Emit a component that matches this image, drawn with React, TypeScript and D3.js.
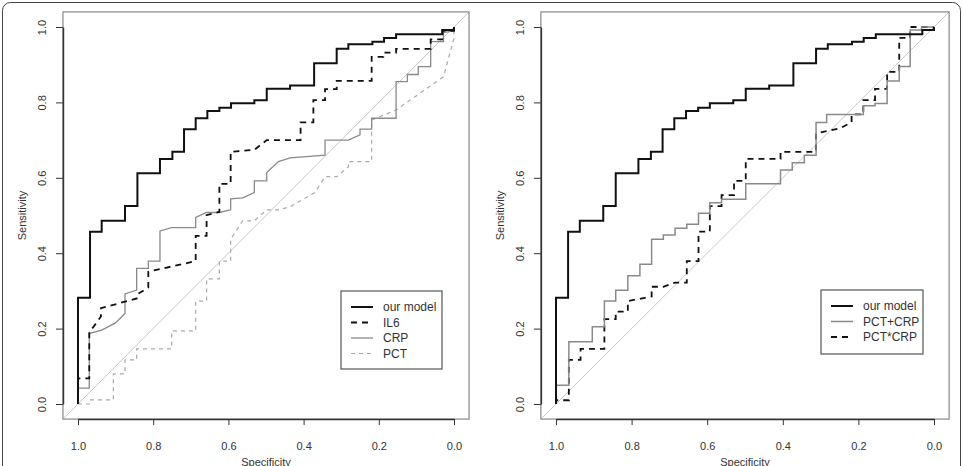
import { useEffect, useRef } from 'react';
import * as d3 from 'd3';

type Pt = [number, number]; // [specificity, sensitivity]

const specTicks = [1, 0.8, 0.6, 0.4, 0.2, 0];
const sensTicks = [0, 0.2, 0.4, 0.6, 0.8, 1];

const ourModel: Pt[] = [
    [1, 0], [1, 0.282], [0.968, 0.282], [0.968, 0.457], [0.937, 0.457], [0.937, 0.486],
    [0.875, 0.486], [0.875, 0.525], [0.842, 0.525], [0.842, 0.612], [0.782, 0.612], [0.782, 0.65],
    [0.749, 0.65], [0.749, 0.669], [0.718, 0.669], [0.718, 0.729], [0.687, 0.729], [0.687, 0.758],
    [0.656, 0.758], [0.656, 0.777], [0.624, 0.777], [0.624, 0.786], [0.593, 0.786], [0.593, 0.798],
    [0.531, 0.798], [0.531, 0.806], [0.498, 0.806], [0.498, 0.836], [0.436, 0.836], [0.436, 0.845],
    [0.372, 0.845], [0.372, 0.904], [0.312, 0.904], [0.312, 0.942], [0.281, 0.942], [0.281, 0.954],
    [0.217, 0.954], [0.217, 0.961], [0.186, 0.961], [0.186, 0.971], [0.154, 0.971], [0.154, 0.981],
    [0.031, 0.981], [0.031, 0.992], [0, 0.992], [0, 1]
];

const il6: Pt[] = [
    [1, 0], [1, 0.068], [0.97, 0.068], [0.97, 0.192], [0.96, 0.203], [0.939, 0.232], [0.939, 0.254],
    [0.844, 0.28], [0.844, 0.29], [0.813, 0.309], [0.813, 0.351], [0.687, 0.379], [0.687, 0.446],
    [0.658, 0.446], [0.658, 0.501], [0.624, 0.51], [0.624, 0.584], [0.594, 0.584], [0.594, 0.669],
    [0.531, 0.674], [0.498, 0.7], [0.408, 0.7], [0.408, 0.747], [0.374, 0.747], [0.374, 0.806],
    [0.343, 0.806], [0.343, 0.835], [0.312, 0.835], [0.312, 0.857], [0.219, 0.857], [0.219, 0.921],
    [0.188, 0.921], [0.188, 0.932], [0.154, 0.932], [0.154, 0.942], [0.062, 0.942], [0.062, 0.967],
    [0.031, 0.967], [0.031, 0.99], [0, 0.99], [0, 1]
];

const crp: Pt[] = [
    [1, 0], [1, 0.042], [0.97, 0.042], [0.97, 0.187], [0.937, 0.196], [0.9, 0.215], [0.875, 0.24],
    [0.875, 0.292], [0.844, 0.302], [0.844, 0.36], [0.813, 0.36], [0.813, 0.379], [0.782, 0.379],
    [0.782, 0.459], [0.751, 0.468], [0.687, 0.468], [0.687, 0.495], [0.658, 0.508], [0.624, 0.508],
    [0.594, 0.515], [0.594, 0.544], [0.562, 0.547], [0.531, 0.561], [0.531, 0.592], [0.498, 0.592],
    [0.498, 0.614], [0.467, 0.643], [0.436, 0.653], [0.343, 0.66], [0.343, 0.7], [0.281, 0.7],
    [0.25, 0.714], [0.25, 0.729], [0.219, 0.729], [0.219, 0.758], [0.154, 0.758], [0.154, 0.855],
    [0.124, 0.855], [0.124, 0.874], [0.095, 0.874], [0.095, 0.895], [0.062, 0.895], [0.062, 0.961],
    [0.028, 0.961], [0.028, 0.985], [0, 0.99], [0, 1]
];

const pct: Pt[] = [
    [1, 0], [0.97, 0], [0.97, 0.011], [0.906, 0.011], [0.906, 0.08], [0.875, 0.08], [0.875, 0.117],
    [0.844, 0.117], [0.844, 0.146], [0.751, 0.146], [0.751, 0.194], [0.687, 0.194], [0.687, 0.273],
    [0.658, 0.273], [0.658, 0.332], [0.624, 0.332], [0.624, 0.379], [0.594, 0.379], [0.594, 0.437],
    [0.562, 0.486], [0.531, 0.486], [0.498, 0.515], [0.467, 0.515], [0.436, 0.523], [0.37, 0.561],
    [0.343, 0.603], [0.312, 0.603], [0.281, 0.629], [0.281, 0.643], [0.219, 0.643], [0.219, 0.753],
    [0.154, 0.78], [0.028, 0.868], [0, 0.97], [0, 1]
];

const pctPlusCrp: Pt[] = [
    [1, 0], [1, 0.05], [0.966, 0.05], [0.966, 0.165], [0.904, 0.165], [0.904, 0.205], [0.872, 0.205],
    [0.872, 0.273], [0.842, 0.273], [0.842, 0.302], [0.81, 0.302], [0.81, 0.34], [0.778, 0.34],
    [0.778, 0.371], [0.747, 0.371], [0.747, 0.437], [0.716, 0.437], [0.716, 0.448], [0.685, 0.448],
    [0.685, 0.466], [0.654, 0.466], [0.654, 0.477], [0.623, 0.477], [0.623, 0.506], [0.593, 0.506],
    [0.593, 0.534], [0.562, 0.534], [0.562, 0.543], [0.498, 0.543], [0.498, 0.584], [0.406, 0.584],
    [0.406, 0.621], [0.375, 0.621], [0.375, 0.64], [0.343, 0.64], [0.343, 0.66], [0.312, 0.66],
    [0.312, 0.747], [0.284, 0.747], [0.284, 0.768], [0.187, 0.768], [0.187, 0.791], [0.156, 0.791],
    [0.156, 0.797], [0.124, 0.797], [0.124, 0.857], [0.092, 0.857], [0.092, 0.895], [0.063, 0.895],
    [0.063, 0.992], [0.033, 0.992], [0.033, 1], [0, 1]
];

const pctTimesCrp: Pt[] = [
    [1, 0], [1, 0.01], [0.966, 0.01], [0.966, 0.117], [0.935, 0.117], [0.935, 0.146], [0.872, 0.146],
    [0.872, 0.225], [0.842, 0.225], [0.842, 0.245], [0.81, 0.245], [0.81, 0.273], [0.747, 0.285],
    [0.747, 0.311], [0.716, 0.311], [0.685, 0.322], [0.654, 0.322], [0.654, 0.379], [0.623, 0.379],
    [0.623, 0.457], [0.593, 0.457], [0.593, 0.525], [0.562, 0.525], [0.562, 0.554], [0.529, 0.554],
    [0.529, 0.592], [0.498, 0.592], [0.498, 0.65], [0.406, 0.65], [0.406, 0.669], [0.312, 0.669],
    [0.312, 0.718], [0.249, 0.731], [0.218, 0.747], [0.218, 0.768], [0.187, 0.768], [0.187, 0.806],
    [0.156, 0.806], [0.156, 0.836], [0.124, 0.836], [0.124, 0.881], [0.092, 0.881], [0.092, 0.971],
    [0.063, 0.971], [0.063, 1], [0, 1]
];

interface LineStyle { stroke: string; width: number; dash: string | null }

const styles: Record<string, LineStyle> = {
    'our model': { stroke: '#111', width: 2, dash: null },
    IL6: { stroke: '#111', width: 1.8, dash: '6,5' },
    CRP: { stroke: '#8a8a8a', width: 1.3, dash: null },
    PCT: { stroke: '#aaa', width: 1.2, dash: '4,4' },
    'PCT+CRP': { stroke: '#8a8a8a', width: 1.5, dash: null },
    'PCT*CRP': { stroke: '#111', width: 1.8, dash: '6,5' }
};

const leftNames = ['our model', 'IL6', 'CRP', 'PCT'];
const leftCurves = [ourModel, il6, crp, pct];
const rightNames = ['our model', 'PCT+CRP', 'PCT*CRP'];
const rightCurves = [ourModel, pctPlusCrp, pctTimesCrp];

const W = 963;
const H = 466;
const FONT = '"Liberation Sans", Arial, sans-serif';

interface PanelOpts {
    xRange: [number, number];
    names: string[];
    curves: Pt[][];
    legend: { x: number; y: number; w: number; h: number };
}

const drawPanel = (svg: d3.Selection<SVGSVGElement, unknown, null, undefined>, opts: PanelOpts) => {
    const x = d3.scaleLinear().domain([1, 0]).range(opts.xRange);
    const y = d3.scaleLinear().domain([0, 1]).range([404, 27]);
    const bx0 = x(1.04), bx1 = x(-0.04), by0 = y(1.04), by1 = y(-0.04);
    const g = svg.append('g');

    // chance diagonal
    g.append('line')
        .attr('x1', bx0).attr('y1', by1)
        .attr('x2', bx1).attr('y2', by0)
        .attr('stroke', '#c8c8c8')
        .attr('stroke-width', 1);

    const line = d3.line<Pt>().x(d => x(d[0])).y(d => y(d[1]));

    // draw back to front so the model curve sits on top
    opts.curves.map((c, i) => ({ c, name: opts.names[i] })).reverse().forEach(({ c, name }) => {
        const s = styles[name];
        g.append('path')
            .attr('d', line(c) ?? '')
            .attr('fill', 'none')
            .attr('stroke', s.stroke)
            .attr('stroke-width', s.width)
            .attr('stroke-dasharray', s.dash)
            .attr('stroke-linejoin', 'miter');
    });

    // box
    g.append('rect')
        .attr('x', bx0).attr('y', by0)
        .attr('width', bx1 - bx0).attr('height', by1 - by0)
        .attr('fill', 'none')
        .attr('stroke', '#888')
        .attr('stroke-width', 1.2);

    // x axis
    const xAxis = g.append('g')
        .attr('transform', `translate(0,${by1})`)
        .call(d3.axisBottom(x).tickValues(specTicks).tickFormat(d3.format('.1f')).tickSize(6).tickSizeOuter(0).tickPadding(17));
    xAxis.attr('font-family', FONT).attr('font-size', 11);
    xAxis.select('.domain').attr('stroke', '#333').attr('stroke-width', 1.5);
    xAxis.selectAll('.tick line').attr('stroke', '#333');
    xAxis.selectAll('.tick text').attr('fill', '#333');

    // y axis
    const yAxis = g.append('g')
        .attr('transform', `translate(${bx0},0)`)
        .call(d3.axisLeft(y).tickValues(sensTicks).tickFormat(d3.format('.1f')).tickSize(7).tickSizeOuter(0));
    yAxis.attr('font-family', FONT).attr('font-size', 11);
    yAxis.select('.domain').attr('stroke', '#333').attr('stroke-width', 1.5);
    yAxis.selectAll('.tick line').attr('stroke', '#333');
    yAxis.selectAll('.tick text')
        .attr('x', null)
        .attr('dy', null)
        .attr('text-anchor', 'middle')
        .attr('transform', 'translate(-17,0) rotate(-90)')
        .attr('fill', '#333');

    // axis titles
    g.append('text')
        .attr('x', (bx0 + bx1) / 2)
        .attr('y', 466)
        .attr('text-anchor', 'middle')
        .attr('font-family', FONT)
        .attr('font-size', 11)
        .attr('fill', '#333')
        .text('Specificity');
    g.append('text')
        .attr('transform', `translate(${bx0 - 37},${(by0 + by1) / 2}) rotate(-90)`)
        .attr('text-anchor', 'middle')
        .attr('font-family', FONT)
        .attr('font-size', 11)
        .attr('fill', '#333')
        .text('Sensitivity');

    // legend
    const lg = opts.legend;
    const leg = g.append('g').attr('transform', `translate(${lg.x},${lg.y})`);
    leg.append('rect')
        .attr('width', lg.w).attr('height', lg.h)
        .attr('fill', '#fff')
        .attr('stroke', '#555')
        .attr('stroke-width', 1.2);
    opts.names.forEach((name, i) => {
        const s = styles[name];
        const cy = 16 + i * 15.5;
        leg.append('line')
            .attr('x1', 10).attr('x2', 32)
            .attr('y1', cy).attr('y2', cy)
            .attr('stroke', s.stroke)
            .attr('stroke-width', s.width)
            .attr('stroke-dasharray', s.dash);
        leg.append('text')
            .attr('x', 42).attr('y', cy)
            .attr('dy', '0.35em')
            .attr('font-family', FONT)
            .attr('font-size', 12)
            .attr('fill', '#333')
            .text(name);
    });
};

const App = () => {
    const svgRef = useRef<SVGSVGElement>(null);

    useEffect(() => {
        const svg = d3.select(svgRef.current as SVGSVGElement);
        svg.selectAll('*').remove();

        // outer frame of the figure
        svg.append('rect')
            .attr('x', 2.5).attr('y', 2.5)
            .attr('width', 958).attr('height', 500)
            .attr('rx', 8)
            .attr('fill', 'none')
            .attr('stroke', '#444')
            .attr('stroke-width', 1);

        drawPanel(svg, {
            xRange: [78, 454],
            names: leftNames,
            curves: leftCurves,
            legend: { x: 341, y: 291, w: 101, h: 78 }
        });
        drawPanel(svg, {
            xRange: [556, 934],
            names: rightNames,
            curves: rightCurves,
            legend: { x: 821, y: 290, w: 102, h: 64 }
        });
    }, []);

    return (
        <div style={{ position: 'absolute', left: 0, top: 0 }}>
            <svg ref={svgRef} width={W} height={H} style={{ display: 'block', background: '#fff' }}></svg>
        </div>
    );
};

export default App;
